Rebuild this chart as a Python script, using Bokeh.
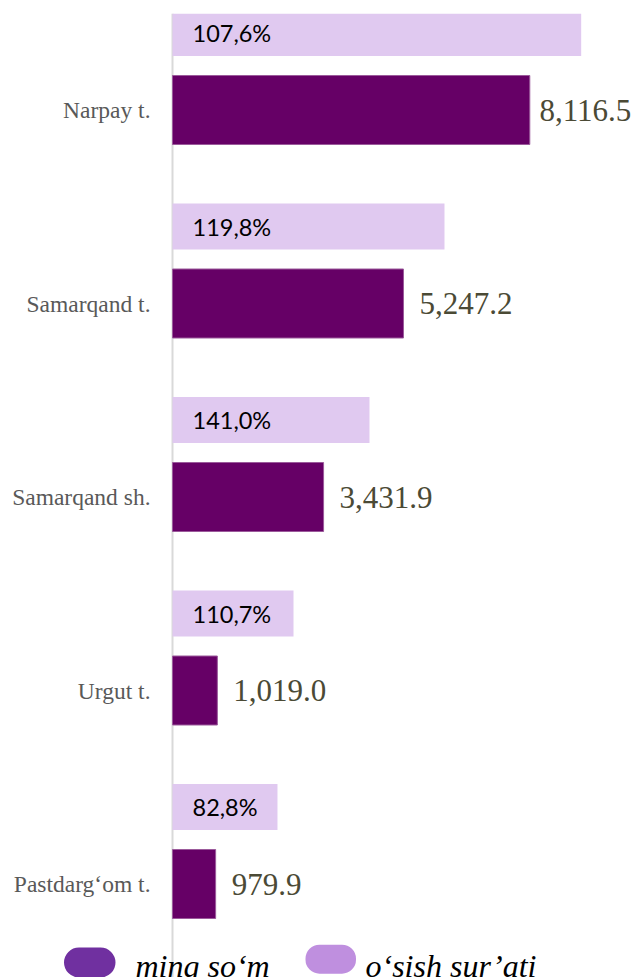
from bokeh.plotting import figure
from bokeh.models import Range1d, Span, ColumnDataSource
from bokeh.core.properties import value
from bokeh.embed import file_html
from bokeh.resources import INLINE

# ---- data ----
districts = ["Narpay t.", "Samarqand t.", "Samarqand sh.", "Urgut t.", "Pastdarg‘om t."]
ming_som = [8116.5, 5247.2, 3431.9, 1019.0, 979.9]          # dark bars
osish_surati = [107.6, 119.8, 141.0, 110.7, 82.8]           # growth rate, %
osish_bar = [9284, 6179, 4475, 2749, 2385]                  # light bar lengths (same scale as dark)
legend_names = ["ming so‘m", "o‘sish sur’ati"]

# ---- layout constants (picture pixels) ----
W, H = 635, 977
AXIS_X = 172
TOP, BOTTOM = 13, 977
S = 0.04402            # px per unit
FIRST, STEP = 109.5, 193.5
LIGHT_SHIFT = -77
DARK_H, LIGHT_H = 69, 46

def xd(px):
    return (px - AXIS_X) / S

x_range = Range1d(xd(0), xd(W))
y_range = Range1d(BOTTOM, TOP)

p = figure(width=W, height=H, x_range=x_range, y_range=y_range,
           output_backend="svg", toolbar_location=None,
           x_axis_location=None, y_axis_location=None,
           min_border_left=0, min_border_right=0,
           min_border_top=TOP, min_border_bottom=0)
p.grid.visible = False
p.outline_line_color = None
p.background_fill_color = "white"
p.border_fill_color = "white"

dark_y = [FIRST + STEP * i for i in range(len(districts))]
light_y = [y + LIGHT_SHIFT for y in dark_y]

p.add_layout(Span(location=0, dimension="height", line_color="#D9D9D9",
                  line_width=2, level="underlay"))

p.hbar(y=light_y, left=0, right=osish_bar, height=LIGHT_H,
       fill_color="#E0C9F0", line_color=None)
p.hbar(y=dark_y, left=0, right=ming_som, height=DARK_H,
       fill_color="#660066", line_color="#9B5A9B", line_width=1)

# value labels
VAL_FS = 31
offs = []
for v in ming_som:
    room = (W - AXIS_X) - v * S - 3.0 * VAL_FS - 3
    offs.append(min(16, room))
val_src = ColumnDataSource(dict(x=ming_som, y=dark_y, off=offs,
                                t=[f"{v:,.1f}" for v in ming_som]))
p.text(x="x", y="y", text="t", x_offset="off", source=val_src,
       text_font=value("Liberation Serif"), text_font_size=f"{VAL_FS}px",
       text_color="#4B4A35", text_baseline="middle", text_align="left")

# percent labels
pct_src = ColumnDataSource(dict(x=[0] * len(osish_surati), y=light_y,
                                t=[f"{v:.1f}%".replace(".", ",") for v in osish_surati]))
p.text(x="x", y="y", text="t", x_offset=20, source=pct_src,
       text_font=value("Lato"), text_font_size="23.5px",
       text_color="#000000", text_baseline="middle", text_align="left")

# category labels
cat_src = ColumnDataSource(dict(x=[0] * len(districts), y=dark_y, t=districts))
p.text(x="x", y="y", text="t", x_offset=-22, source=cat_src,
       text_font=value("Liberation Serif"), text_font_size="23.5px",
       text_color="#595959", text_baseline="middle", text_align="right")

# legend (pills + italic labels)
p.hbar(y=[962.5], left=[xd(63.5)], right=[xd(115)], height=31,
       fill_color="#7030A0", line_color=None, border_radius=15)
p.hbar(y=[958.7], left=[xd(305)], right=[xd(355.5)], height=29,
       fill_color="#BF8FDF", line_color=None, border_radius=14)
p.text(x=[xd(135), xd(365)], y=[965, 965], text=legend_names,
       text_font=value("Liberation Serif"), text_font_size="32px",
       text_font_style="italic", text_color="#000000",
       text_baseline="alphabetic", text_align="left")

open("out.html", "w").write(file_html(p, INLINE))
